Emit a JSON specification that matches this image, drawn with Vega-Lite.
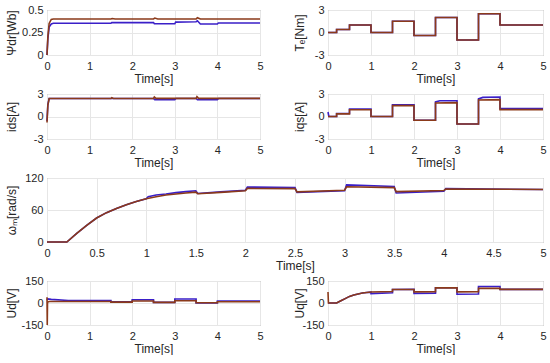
{
  "$schema": "https://vega.github.io/schema/vega-lite/v6.json",
  "padding": {"left": 4, "top": 3, "right": 4, "bottom": 0},
  "config": {
    "font": "Liberation Sans",
    "view": {"stroke": "#8a8a8a", "strokeWidth": 1},
    "axis": {
      "grid": true, "gridColor": "#e6e6e6", "domain": false, "ticks": false,
      "labelFontSize": 11, "labelColor": "#262626", "labelFlush": false,
      "labelExpr": "toString(datum.value)",
      "titleFontSize": 12, "titleFontWeight": "normal", "titleColor": "#262626"
    },
    "axisX": {"labelPadding": 5, "titlePadding": 2},
    "axisY": {"labelPadding": 4, "titlePadding": 3, "minExtent": 26, "maxExtent": 26},
    "line": {"strokeWidth": 1.6, "clip": true}
  },
  "datasets": {
    "psi": [
      {"t":0,"v":0,"s":"a"},{"t":0.02,"v":0.18,"s":"a"},{"t":0.05,"v":0.31,"s":"a"},{"t":0.1,"v":0.345,"s":"a"},{"t":0.15,"v":0.352,"s":"a"},{"t":1.5,"v":0.352,"s":"a"},{"t":1.52,"v":0.36,"s":"a"},{"t":2.5,"v":0.36,"s":"a"},{"t":2.52,"v":0.347,"s":"a"},{"t":3.0,"v":0.347,"s":"a"},{"t":3.02,"v":0.365,"s":"a"},{"t":3.5,"v":0.37,"s":"a"},{"t":3.53,"v":0.38,"s":"a"},{"t":3.6,"v":0.345,"s":"a"},{"t":4.0,"v":0.345,"s":"a"},{"t":4.02,"v":0.355,"s":"a"},{"t":5,"v":0.355,"s":"a"},
      {"t":0,"v":0,"s":"b"},{"t":0.02,"v":0.2,"s":"b"},{"t":0.05,"v":0.35,"s":"b"},{"t":0.1,"v":0.395,"s":"b"},{"t":0.15,"v":0.4,"s":"b"},{"t":1.5,"v":0.4,"s":"b"},{"t":1.53,"v":0.405,"s":"b"},{"t":1.6,"v":0.4,"s":"b"},{"t":2.5,"v":0.4,"s":"b"},{"t":2.53,"v":0.41,"s":"b"},{"t":2.6,"v":0.4,"s":"b"},{"t":3.5,"v":0.4,"s":"b"},{"t":3.53,"v":0.415,"s":"b"},{"t":3.6,"v":0.4,"s":"b"},{"t":5,"v":0.4,"s":"b"}
    ],
    "te": [
      {"t":0,"v":0,"s":"a"},{"t":0.2,"v":0,"s":"a"},{"t":0.2,"v":0.4,"s":"a"},{"t":0.5,"v":0.4,"s":"a"},{"t":0.5,"v":1,"s":"a"},{"t":1,"v":1,"s":"a"},{"t":1,"v":0,"s":"a"},{"t":1.5,"v":0,"s":"a"},{"t":1.5,"v":1.5,"s":"a"},{"t":2,"v":1.5,"s":"a"},{"t":2,"v":-0.4,"s":"a"},{"t":2.5,"v":-0.4,"s":"a"},{"t":2.5,"v":2,"s":"a"},{"t":3,"v":2,"s":"a"},{"t":3,"v":-1,"s":"a"},{"t":3.5,"v":-1,"s":"a"},{"t":3.5,"v":2.5,"s":"a"},{"t":4,"v":2.5,"s":"a"},{"t":4,"v":1,"s":"a"},{"t":5,"v":1,"s":"a"},
      {"t":0,"v":0,"s":"b"},{"t":0.2,"v":0,"s":"b"},{"t":0.2,"v":0.4,"s":"b"},{"t":0.5,"v":0.4,"s":"b"},{"t":0.5,"v":1,"s":"b"},{"t":1,"v":1,"s":"b"},{"t":1,"v":0,"s":"b"},{"t":1.5,"v":0,"s":"b"},{"t":1.5,"v":1.5,"s":"b"},{"t":2,"v":1.5,"s":"b"},{"t":2,"v":-0.4,"s":"b"},{"t":2.5,"v":-0.4,"s":"b"},{"t":2.5,"v":2,"s":"b"},{"t":3,"v":2,"s":"b"},{"t":3,"v":-1,"s":"b"},{"t":3.5,"v":-1,"s":"b"},{"t":3.5,"v":2.5,"s":"b"},{"t":4,"v":2.5,"s":"b"},{"t":4,"v":1,"s":"b"},{"t":5,"v":1,"s":"b"}
    ],
    "ids": [
      {"t":0,"v":-0.6,"s":"a"},{"t":0.02,"v":1.6,"s":"a"},{"t":0.05,"v":2.4,"s":"a"},{"t":2.5,"v":2.4,"s":"a"},{"t":2.53,"v":2.25,"s":"a"},{"t":3.0,"v":2.25,"s":"a"},{"t":3.03,"v":2.4,"s":"a"},{"t":3.5,"v":2.4,"s":"a"},{"t":3.53,"v":2.25,"s":"a"},{"t":4.0,"v":2.25,"s":"a"},{"t":4.03,"v":2.4,"s":"a"},{"t":5,"v":2.4,"s":"a"},
      {"t":0,"v":-0.8,"s":"b"},{"t":0.02,"v":1.5,"s":"b"},{"t":0.05,"v":2.4,"s":"b"},{"t":1.5,"v":2.4,"s":"b"},{"t":1.52,"v":2.5,"s":"b"},{"t":1.56,"v":2.4,"s":"b"},{"t":2.5,"v":2.4,"s":"b"},{"t":2.52,"v":2.6,"s":"b"},{"t":2.56,"v":2.42,"s":"b"},{"t":3.5,"v":2.42,"s":"b"},{"t":3.52,"v":2.65,"s":"b"},{"t":3.56,"v":2.42,"s":"b"},{"t":5,"v":2.42,"s":"b"}
    ],
    "iqs": [
      {"t":0,"v":0.6,"s":"a"},{"t":0.02,"v":0,"s":"a"},{"t":0.2,"v":0,"s":"a"},{"t":0.2,"v":0.4,"s":"a"},{"t":0.5,"v":0.4,"s":"a"},{"t":0.5,"v":1.0,"s":"a"},{"t":1,"v":1.0,"s":"a"},{"t":1,"v":0,"s":"a"},{"t":1.5,"v":0,"s":"a"},{"t":1.5,"v":1.55,"s":"a"},{"t":2,"v":1.55,"s":"a"},{"t":2,"v":-0.5,"s":"a"},{"t":2.5,"v":-0.5,"s":"a"},{"t":2.5,"v":1.95,"s":"a"},{"t":2.6,"v":2.1,"s":"a"},{"t":3,"v":2.1,"s":"a"},{"t":3,"v":-1.0,"s":"a"},{"t":3.5,"v":-1.0,"s":"a"},{"t":3.5,"v":2.35,"s":"a"},{"t":3.6,"v":2.55,"s":"a"},{"t":4,"v":2.6,"s":"a"},{"t":4,"v":1.05,"s":"a"},{"t":5,"v":1.05,"s":"a"},
      {"t":0,"v":0,"s":"b"},{"t":0.2,"v":0,"s":"b"},{"t":0.2,"v":0.35,"s":"b"},{"t":0.5,"v":0.35,"s":"b"},{"t":0.5,"v":0.9,"s":"b"},{"t":1,"v":0.9,"s":"b"},{"t":1,"v":0,"s":"b"},{"t":1.5,"v":0,"s":"b"},{"t":1.5,"v":1.45,"s":"b"},{"t":2,"v":1.45,"s":"b"},{"t":2,"v":-0.5,"s":"b"},{"t":2.5,"v":-0.5,"s":"b"},{"t":2.5,"v":1.8,"s":"b"},{"t":3,"v":1.85,"s":"b"},{"t":3,"v":-1.0,"s":"b"},{"t":3.5,"v":-1.0,"s":"b"},{"t":3.5,"v":2.2,"s":"b"},{"t":4,"v":2.25,"s":"b"},{"t":4,"v":0.92,"s":"b"},{"t":5,"v":0.92,"s":"b"}
    ],
    "om": [
      {"t":0,"v":0,"s":"a"},{"t":0.2,"v":0,"s":"a"},{"t":0.3,"v":16,"s":"a"},{"t":0.4,"v":31,"s":"a"},{"t":0.5,"v":45,"s":"a"},{"t":0.6,"v":55,"s":"a"},{"t":0.7,"v":63,"s":"a"},{"t":0.8,"v":70,"s":"a"},{"t":0.9,"v":76,"s":"a"},{"t":1.0,"v":81,"s":"a"},{"t":1.02,"v":85,"s":"a"},{"t":1.1,"v":88,"s":"a"},{"t":1.2,"v":90,"s":"a"},{"t":1.3,"v":92.5,"s":"a"},{"t":1.4,"v":94.5,"s":"a"},{"t":1.5,"v":96,"s":"a"},{"t":1.52,"v":91,"s":"a"},{"t":1.75,"v":94,"s":"a"},{"t":2.0,"v":97,"s":"a"},{"t":2.02,"v":103,"s":"a"},{"t":2.5,"v":102,"s":"a"},{"t":2.52,"v":93,"s":"a"},{"t":3.0,"v":96,"s":"a"},{"t":3.02,"v":107,"s":"a"},{"t":3.5,"v":104,"s":"a"},{"t":3.52,"v":92,"s":"a"},{"t":4.0,"v":95,"s":"a"},{"t":4.02,"v":100,"s":"a"},{"t":5,"v":98.5,"s":"a"},
      {"t":0,"v":0,"s":"b"},{"t":0.2,"v":0,"s":"b"},{"t":0.3,"v":16,"s":"b"},{"t":0.4,"v":31,"s":"b"},{"t":0.5,"v":45,"s":"b"},{"t":0.6,"v":55,"s":"b"},{"t":0.7,"v":63,"s":"b"},{"t":0.8,"v":70,"s":"b"},{"t":0.9,"v":76,"s":"b"},{"t":1.0,"v":81,"s":"b"},{"t":1.1,"v":85,"s":"b"},{"t":1.2,"v":88,"s":"b"},{"t":1.3,"v":90,"s":"b"},{"t":1.4,"v":92,"s":"b"},{"t":1.5,"v":93.5,"s":"b"},{"t":1.52,"v":90.5,"s":"b"},{"t":1.75,"v":93,"s":"b"},{"t":2.0,"v":96,"s":"b"},{"t":2.02,"v":100.5,"s":"b"},{"t":2.5,"v":100,"s":"b"},{"t":2.52,"v":94,"s":"b"},{"t":3.0,"v":97,"s":"b"},{"t":3.02,"v":103.5,"s":"b"},{"t":3.5,"v":102,"s":"b"},{"t":3.52,"v":94.5,"s":"b"},{"t":4.0,"v":96.5,"s":"b"},{"t":4.02,"v":99.5,"s":"b"},{"t":5,"v":98.5,"s":"b"}
    ],
    "ud": [
      {"t":0,"v":20,"s":"a"},{"t":0.02,"v":28,"s":"a"},{"t":0.1,"v":25,"s":"a"},{"t":0.5,"v":17,"s":"a"},{"t":1.5,"v":17,"s":"a"},{"t":1.5,"v":9,"s":"a"},{"t":2,"v":9,"s":"a"},{"t":2,"v":22,"s":"a"},{"t":2.5,"v":22,"s":"a"},{"t":2.5,"v":4,"s":"a"},{"t":3,"v":4,"s":"a"},{"t":3,"v":27,"s":"a"},{"t":3.5,"v":27,"s":"a"},{"t":3.5,"v":0,"s":"a"},{"t":4,"v":0,"s":"a"},{"t":4,"v":13,"s":"a"},{"t":5,"v":13,"s":"a"},
      {"t":0,"v":40,"s":"b"},{"t":0.006,"v":-150,"s":"b"},{"t":0.012,"v":5,"s":"b"},{"t":0.05,"v":10,"s":"b"},{"t":1.5,"v":10,"s":"b"},{"t":1.5,"v":6,"s":"b"},{"t":2,"v":6,"s":"b"},{"t":2,"v":14,"s":"b"},{"t":2.5,"v":14,"s":"b"},{"t":2.5,"v":4,"s":"b"},{"t":3,"v":4,"s":"b"},{"t":3,"v":15,"s":"b"},{"t":3.5,"v":15,"s":"b"},{"t":3.5,"v":2,"s":"b"},{"t":4,"v":2,"s":"b"},{"t":4,"v":9,"s":"b"},{"t":5,"v":9,"s":"b"}
    ],
    "uq": [
      {"t":0,"v":0,"s":"a"},{"t":0.2,"v":0,"s":"a"},{"t":0.3,"v":15,"s":"a"},{"t":0.4,"v":30,"s":"a"},{"t":0.5,"v":45,"s":"a"},{"t":0.6,"v":55,"s":"a"},{"t":0.7,"v":62,"s":"a"},{"t":0.8,"v":68,"s":"a"},{"t":0.9,"v":72,"s":"a"},{"t":1,"v":74,"s":"a"},{"t":1,"v":64,"s":"a"},{"t":1.5,"v":70,"s":"a"},{"t":1.5,"v":92,"s":"a"},{"t":2,"v":93,"s":"a"},{"t":2,"v":66,"s":"a"},{"t":2.5,"v":67,"s":"a"},{"t":2.5,"v":104,"s":"a"},{"t":3,"v":104,"s":"a"},{"t":3,"v":60,"s":"a"},{"t":3.5,"v":61,"s":"a"},{"t":3.5,"v":112,"s":"a"},{"t":4,"v":112,"s":"a"},{"t":4,"v":93,"s":"a"},{"t":5,"v":93,"s":"a"},
      {"t":0,"v":75,"s":"b"},{"t":0.01,"v":0,"s":"b"},{"t":0.2,"v":0,"s":"b"},{"t":0.3,"v":15,"s":"b"},{"t":0.4,"v":30,"s":"b"},{"t":0.5,"v":45,"s":"b"},{"t":0.6,"v":55,"s":"b"},{"t":0.7,"v":62,"s":"b"},{"t":0.8,"v":68,"s":"b"},{"t":0.9,"v":72,"s":"b"},{"t":1,"v":75,"s":"b"},{"t":1.5,"v":78,"s":"b"},{"t":1.5,"v":92,"s":"b"},{"t":2,"v":92,"s":"b"},{"t":2,"v":76,"s":"b"},{"t":2.5,"v":77,"s":"b"},{"t":2.5,"v":103,"s":"b"},{"t":3,"v":103,"s":"b"},{"t":3,"v":76,"s":"b"},{"t":3.5,"v":77,"s":"b"},{"t":3.5,"v":100,"s":"b"},{"t":4,"v":100,"s":"b"},{"t":4,"v":93,"s":"b"},{"t":5,"v":93,"s":"b"}
    ]
  },
  "spacing": 2,
  "vconcat": [
    {
      "bounds": "flush", "spacing": 68,
      "hconcat": [
        {"data": {"name": "psi"}, "width": 213, "height": 45, "mark": "line",
         "encoding": {
           "x": {"field": "t", "type": "quantitative", "scale": {"domain": [0, 5]}, "axis": {"values": [0,1,2,3,4,5], "title": "Time[s]"}},
           "y": {"field": "v", "type": "quantitative", "scale": {"domain": [0, 0.5]}, "axis": {"values": [0,0.25,0.5], "title": "Ψdr[Wb]"}},
           "color": {"field": "s", "type": "nominal", "scale": {"domain": ["a","b"], "range": ["#3a1fc8","#8b3a1a"]}, "legend": null},
           "order": {"value": null}}},
        {"data": {"name": "te"}, "width": 215, "height": 45, "mark": "line",
         "encoding": {
           "x": {"field": "t", "type": "quantitative", "scale": {"domain": [0, 5]}, "axis": {"values": [0,1,2,3,4,5], "title": "Time[s]"}},
           "y": {"field": "v", "type": "quantitative", "scale": {"domain": [-3, 3]}, "axis": {"values": [-3,0,3], "title": "Tₑ[Nm]", "minExtent": 19, "maxExtent": 19}},
           "color": {"field": "s", "type": "nominal", "scale": {"domain": ["a","b"], "range": ["#3a1fc8","#8b3a1a"]}, "legend": null},
           "order": {"value": null}}}
      ]
    },
    {
      "bounds": "flush", "spacing": 68,
      "hconcat": [
        {"data": {"name": "ids"}, "width": 213, "height": 45, "mark": "line",
         "encoding": {
           "x": {"field": "t", "type": "quantitative", "scale": {"domain": [0, 5]}, "axis": {"values": [0,1,2,3,4,5], "title": "Time[s]"}},
           "y": {"field": "v", "type": "quantitative", "scale": {"domain": [-3, 3]}, "axis": {"values": [-3,0,3], "title": "ids[A]"}},
           "color": {"field": "s", "type": "nominal", "scale": {"domain": ["a","b"], "range": ["#3a1fc8","#8b3a1a"]}, "legend": null},
           "order": {"value": null}}},
        {"data": {"name": "iqs"}, "width": 215, "height": 45, "mark": "line",
         "encoding": {
           "x": {"field": "t", "type": "quantitative", "scale": {"domain": [0, 5]}, "axis": {"values": [0,1,2,3,4,5], "title": "Time[s]"}},
           "y": {"field": "v", "type": "quantitative", "scale": {"domain": [-3, 3]}, "axis": {"values": [-3,0,3], "title": "iqs[A]", "minExtent": 19, "maxExtent": 19}},
           "color": {"field": "s", "type": "nominal", "scale": {"domain": ["a","b"], "range": ["#3a1fc8","#8b3a1a"]}, "legend": null},
           "order": {"value": null}}}
      ]
    },
    {"data": {"name": "om"}, "width": 496, "height": 64, "mark": "line",
     "encoding": {
       "x": {"field": "t", "type": "quantitative", "scale": {"domain": [0, 5]}, "axis": {"values": [0,0.5,1,1.5,2,2.5,3,3.5,4,4.5,5], "title": "Time[s]"}},
       "y": {"field": "v", "type": "quantitative", "scale": {"domain": [0, 120]}, "axis": {"values": [0,60,120], "title": "ωₘ[rad/s]"}},
       "color": {"field": "s", "type": "nominal", "scale": {"domain": ["a","b"], "range": ["#3a1fc8","#8b3a1a"]}, "legend": null},
       "order": {"value": null}}},
    {
      "bounds": "flush", "spacing": 68,
      "hconcat": [
        {"data": {"name": "ud"}, "width": 213, "height": 44, "mark": "line",
         "encoding": {
           "x": {"field": "t", "type": "quantitative", "scale": {"domain": [0, 5]}, "axis": {"values": [0,1,2,3,4,5], "title": "Time[s]"}},
           "y": {"field": "v", "type": "quantitative", "scale": {"domain": [-150, 150]}, "axis": {"values": [-150,0,150], "title": "Ud[V]"}},
           "color": {"field": "s", "type": "nominal", "scale": {"domain": ["a","b"], "range": ["#3a1fc8","#8b3a1a"]}, "legend": null},
           "order": {"value": null}}},
        {"data": {"name": "uq"}, "width": 215, "height": 44, "mark": "line",
         "encoding": {
           "x": {"field": "t", "type": "quantitative", "scale": {"domain": [0, 5]}, "axis": {"values": [0,1,2,3,4,5], "title": "Time[s]"}},
           "y": {"field": "v", "type": "quantitative", "scale": {"domain": [-150, 150]}, "axis": {"values": [-150,0,150], "title": "Uq[V]", "minExtent": 19, "maxExtent": 19}},
           "color": {"field": "s", "type": "nominal", "scale": {"domain": ["a","b"], "range": ["#3a1fc8","#8b3a1a"]}, "legend": null},
           "order": {"value": null}}}
      ]
    }
  ]
}
